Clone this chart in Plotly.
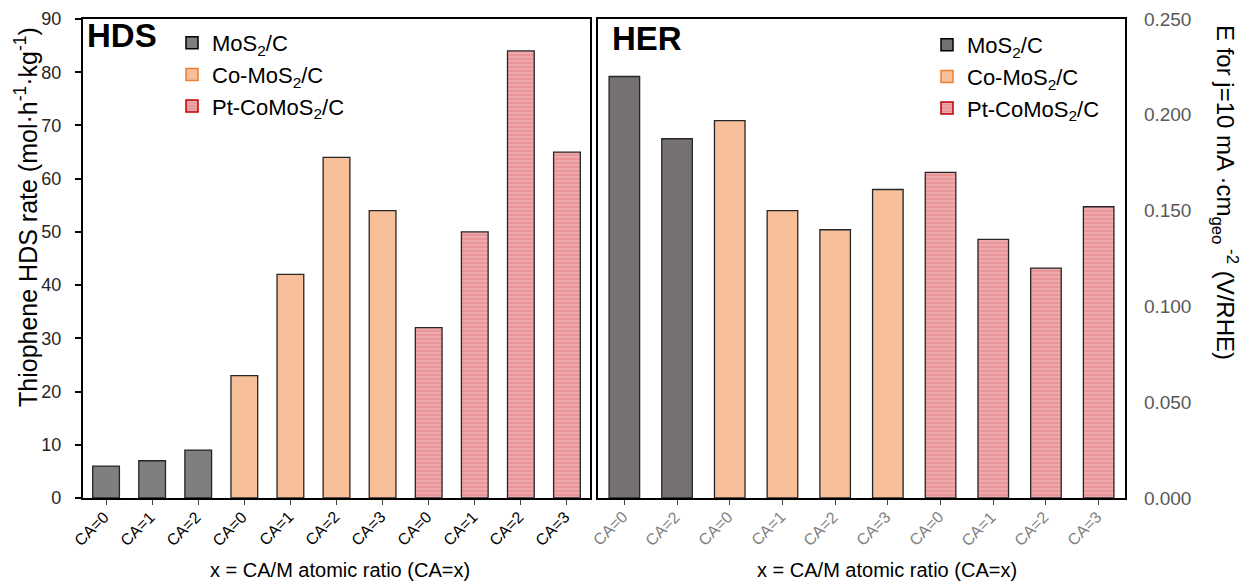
import plotly.graph_objects as go

W, H = 1245, 583

# ---------------- data ----------------
hds_labels = ["CA=0", "CA=1", "CA=2", "CA=0", "CA=1", "CA=2", "CA=3", "CA=0", "CA=1", "CA=2", "CA=3"]
hds_mos2 = [6, 7, 9]
hds_como = [23, 42, 64, 54]
hds_ptcomo = [32, 50, 84, 65]

her_labels = ["CA=0", "CA=2", "CA=0", "CA=1", "CA=2", "CA=3", "CA=0", "CA=1", "CA=2", "CA=3"]
her_mos2 = [0.220, 0.1875]
her_como = [0.197, 0.150, 0.140, 0.161]
her_ptcomo = [0.170, 0.135, 0.120, 0.152]

series_names = ["MoS<sub>2</sub>/C", "Co-MoS<sub>2</sub>/C", "Pt-CoMoS<sub>2</sub>/C"]

# ---------------- styles ----------------
FONT = "Liberation Sans, Arial, sans-serif"
GRAY_L = "#7F7F7F"
GRAY_R = "#767171"
PEACH = "#F8C09A"
PINK_BG = "#E8969A"
PINK_FG = "#F6C6C6"
OUTLINE = "#262626"


def px(x):
    return x / W


def py(y):
    return 1 - y / H


def pattern():
    return dict(shape="-", bgcolor=PINK_BG, fgcolor=PINK_FG, size=4, solidity=0.4)


fig = go.Figure()

# ----- HDS (left) -----
n1 = len(hds_mos2)
n2 = len(hds_como)
idx_m = list(range(0, n1))
idx_c = list(range(n1, n1 + n2))
idx_p = list(range(n1 + n2, n1 + n2 + len(hds_ptcomo)))

BW = 0.58
fig.add_trace(go.Bar(x=idx_m, y=hds_mos2, width=BW, xaxis="x", yaxis="y", showlegend=False,
                     marker=dict(color=GRAY_L, line=dict(color=OUTLINE, width=1.3))))
fig.add_trace(go.Bar(x=idx_c, y=hds_como, width=BW, xaxis="x", yaxis="y", showlegend=False,
                     marker=dict(color=PEACH, line=dict(color=OUTLINE, width=1.3))))
fig.add_trace(go.Bar(x=idx_p, y=hds_ptcomo, width=BW, xaxis="x", yaxis="y", showlegend=False,
                     marker=dict(color=PINK_BG, pattern=pattern(), line=dict(color=OUTLINE, width=1.3))))

# ----- HER (right) -----
m1 = len(her_mos2)
m2 = len(her_como)
jdx_m = list(range(0, m1))
jdx_c = list(range(m1, m1 + m2))
jdx_p = list(range(m1 + m2, m1 + m2 + len(her_ptcomo)))

fig.add_trace(go.Bar(x=jdx_m, y=her_mos2, width=BW, xaxis="x2", yaxis="y2", showlegend=False,
                     marker=dict(color=GRAY_R, line=dict(color=OUTLINE, width=1.3))))
fig.add_trace(go.Bar(x=jdx_c, y=her_como, width=BW, xaxis="x2", yaxis="y2", showlegend=False,
                     marker=dict(color=PEACH, line=dict(color=OUTLINE, width=1.3))))
fig.add_trace(go.Bar(x=jdx_p, y=her_ptcomo, width=BW, xaxis="x2", yaxis="y2", showlegend=False,
                     marker=dict(color=PINK_BG, pattern=pattern(), line=dict(color=OUTLINE, width=1.3))))

# ----- legend-only entries -----
leg_fill = [GRAY_L, PEACH, PINK_BG]
leg_fill_r = [GRAY_R, PEACH, PINK_BG]
leg_line = ["#000000", "#ED7D31", "#C00000"]
for lg, fills, xa, ya in (("legend", leg_fill, "x", "y"), ("legend2", leg_fill_r, "x2", "y2")):
    for i, name in enumerate(series_names):
        mk = dict(color=fills[i], line=dict(color=leg_line[i], width=1.5))
        if i == 2:
            mk["pattern"] = pattern()
        fig.add_trace(go.Bar(x=[None], y=[None], name=name, xaxis=xa, yaxis=ya,
                             legend=lg, marker=mk, showlegend=True))

axis_line = dict(showline=True, linecolor="#000000", linewidth=2.2, mirror=True,
                 showgrid=False, zeroline=False, automargin=False)

fig.update_layout(
    width=W, height=H,
    margin=dict(l=0, r=0, t=0, b=0),
    paper_bgcolor="white", plot_bgcolor="white",
    font=dict(family=FONT, color="#000000"),
    barmode="overlay",
    xaxis=dict(domain=[px(83), px(590)], range=[-0.5, len(hds_labels) - 0.5],
               tickmode="array", tickvals=list(range(len(hds_labels))), ticktext=hds_labels,
               showticklabels=False,
               ticks="outside", ticklen=5, tickcolor="#404040", tickwidth=1,
               anchor="y", **axis_line),
    yaxis=dict(domain=[py(498), py(19)], range=[0, 90], dtick=10, anchor="x",
               ticks="outside", ticklen=6, tickcolor="#000000", tickwidth=1.5,
               ticklabelstandoff=10,
               tickfont=dict(size=18, color="#262626"), **axis_line),
    xaxis2=dict(domain=[px(598), px(1125)], range=[-0.5, len(her_labels) - 0.5],
                tickmode="array", tickvals=list(range(len(her_labels))), ticktext=her_labels,
                showticklabels=False,
                ticks="outside", ticklen=5, tickcolor="#404040", tickwidth=1,
                anchor="y2", **axis_line),
    yaxis2=dict(domain=[py(498), py(19)], range=[0, 0.25], dtick=0.05, tickformat=".3f",
                anchor="x2", side="right", ticks="", ticklabelstandoff=13,
                tickfont=dict(size=19, color="#595959"), **axis_line),
    legend=dict(x=px(172), y=py(22), xanchor="left", yanchor="top",
                bgcolor="rgba(0,0,0,0)", font=dict(size=22, color="#000000"),
                itemclick=False, itemdoubleclick=False),
    legend2=dict(x=px(927), y=py(24), xanchor="left", yanchor="top",
                 bgcolor="rgba(0,0,0,0)", font=dict(size=22, color="#000000"),
                 itemclick=False, itemdoubleclick=False),
)

ann = [
    dict(text="<b>HDS</b>", x=px(85), y=py(36), xanchor="left", yanchor="middle",
         font=dict(size=33, color="#000000")),
    dict(text="<b>HER</b>", x=px(610), y=py(39), xanchor="left", yanchor="middle",
         font=dict(size=33, color="#000000")),
    dict(text="Thiophene HDS rate (mol·h<sup>-1</sup>·kg<sup>-1</sup>)", x=px(26), y=py(217),
         textangle=-90, xanchor="center", yanchor="middle", font=dict(size=25, color="#000000")),
    dict(text="E for j=10 mA ·cm<sub>geo</sub><sup> -2</sup> (V/RHE)", x=px(1225), y=py(192),
         textangle=90, xanchor="center", yanchor="middle", font=dict(size=24, color="#000000")),
    dict(text="x = CA/M atomic ratio (CA=x)", x=px(340), y=py(570), xanchor="center",
         yanchor="middle", font=dict(size=20, color="#000000")),
    dict(text="x = CA/M atomic ratio (CA=x)", x=px(887), y=py(570), xanchor="center",
         yanchor="middle", font=dict(size=20, color="#000000")),
]
for a in ann:
    a.update(xref="paper", yref="paper", showarrow=False)

# rotated category labels, placed at the axis' own category positions
for xref, labels, col in (("x", hds_labels, "#000000"), ("x2", her_labels, "#808080")):
    for i, lab in enumerate(labels):
        ann.append(dict(text=lab, x=i, xref=xref, y=py(505), yref="paper",
                        xanchor="right", yanchor="top", textangle=-45, xshift=9,
                        showarrow=False, font=dict(size=16, color=col)))

fig.update_layout(annotations=ann)

fig.write_html("out.html")
